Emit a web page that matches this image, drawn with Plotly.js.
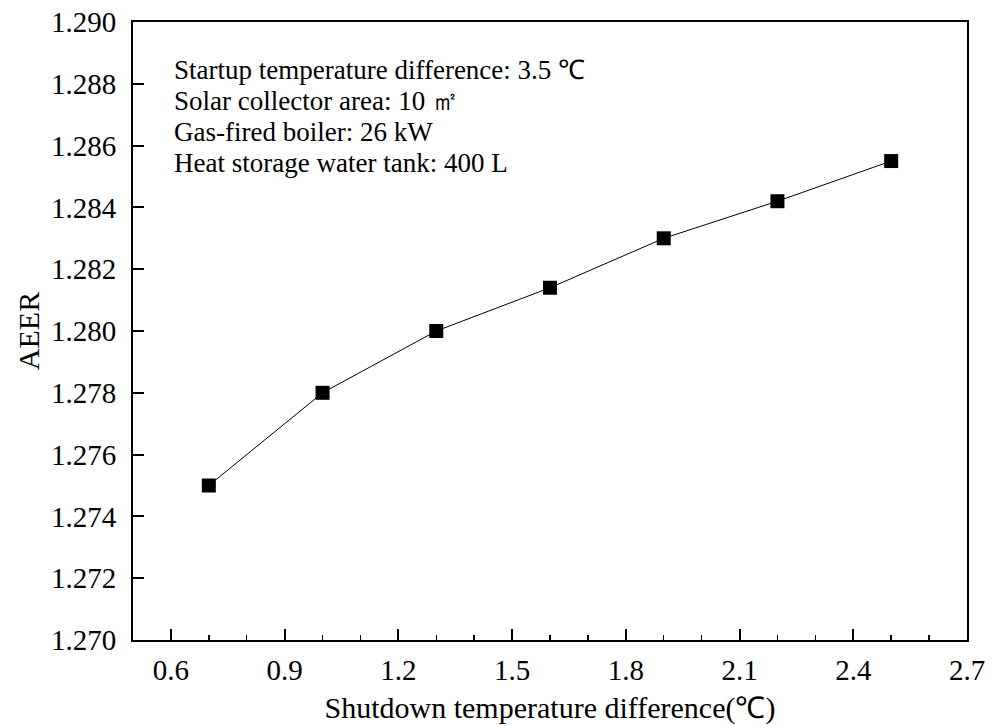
<!DOCTYPE html>
<html>
<head>
<meta charset="utf-8">
<script src="https://cdn.plot.ly/plotly-3.0.1.min.js"></script>
<style>html,body{margin:0;padding:0;background:#fff;}#chart{width:995px;height:726px;}</style>
</head>
<body>
<div id="chart"></div>
<script>
const shutdownDiff = [0.7, 1.0, 1.3, 1.6, 1.9, 2.2, 2.5];
const aeer = [1.2750, 1.2780, 1.2800, 1.2814, 1.2830, 1.2842, 1.2855];
const infoLines = [
  "Startup temperature difference: 3.5 \u2103",
  "Solar collector area: 10 \u33A1",
  "Gas-fired boiler: 26 kW",
  "Heat storage water tank: 400 L"
];
const xTitle = "Shutdown temperature difference(\u2103)";
const yTitle = "AEER";

const font = "Liberation Serif, Times New Roman, serif";
const L = 133, R = 28, T = 22, B = 86;
const plotH = 726 - T - B;
const lineCenters = [70, 101, 132, 163];

const annotations = infoLines.map((t, i) => ({
  text: t, xref: 'paper', yref: 'paper',
  x: (172 - L) / (995 - L - R), y: (726 - B - lineCenters[i]) / plotH,
  xanchor: 'left', yanchor: 'middle', showarrow: false,
  font: {family: font, size: 27, color: '#000'}
}));

const trace = {
  x: shutdownDiff, y: aeer, type: 'scatter', mode: 'lines+markers',
  line: {color: '#000', width: 1},
  marker: {symbol: 'square', size: 14, color: '#000'},
  showlegend: false
};

const layout = {
  width: 995, height: 726,
  margin: {l: L, r: R, t: T, b: B},
  paper_bgcolor: '#fff', plot_bgcolor: '#fff',
  font: {family: font, color: '#000'},
  xaxis: {
    range: [0.5, 2.7], tick0: 0.6, dtick: 0.3, tickformat: '.1f',
    ticks: 'inside', ticklen: 11, tickwidth: 2, tickcolor: '#000',
    minor: {dtick: 0.1, tick0: 0.6, ticks: 'inside', ticklen: 5, tickwidth: 1.5, tickcolor: '#000'},
    showline: true, linewidth: 2, linecolor: '#000', mirror: true,
    showgrid: false, zeroline: false, ticklabelstandoff: 3,
    tickfont: {family: font, size: 29, color: '#000'},
    title: {text: xTitle, font: {family: font, size: 30, color: '#000'}, standoff: 12}
  },
  yaxis: {
    range: [1.270, 1.290], tick0: 1.270, dtick: 0.002, tickformat: '.3f',
    ticks: 'inside', ticklen: 11, tickwidth: 2, tickcolor: '#000',
    showline: true, linewidth: 2, linecolor: '#000', mirror: true,
    showgrid: false, zeroline: false, ticklabelstandoff: 9,
    tickfont: {family: font, size: 29, color: '#000'},
    title: {text: yTitle, font: {family: font, size: 30, color: '#000'}, standoff: 2}
  },
  annotations: annotations
};

Plotly.newPlot('chart', [trace], layout, {staticPlot: true, displayModeBar: false});
</script>
</body>
</html>
